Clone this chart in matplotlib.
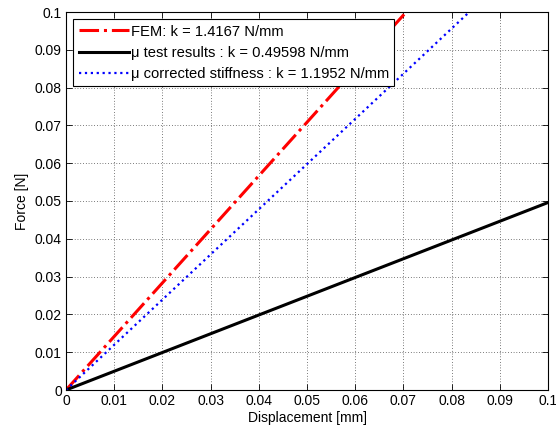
import matplotlib
matplotlib.use("Agg")
import matplotlib.pyplot as plt

plt.rcParams['font.family'] = ['Liberation Sans', 'DejaVu Sans']

displacement = [0.0, 0.1]
fem_force = [0.0, 0.14167]
test_force = [0.0, 0.049598]
corrected_force = [0.0, 0.11952]

labels = ["FEM: k = 1.4167 N/mm",
          "\u03bc test results : k = 0.49598 N/mm",
          "\u03bc corrected stiffness : k = 1.1952 N/mm"]
ticks = [0, 0.01, 0.02, 0.03, 0.04, 0.05, 0.06, 0.07, 0.08, 0.09, 0.1]
tick_labels = ["0", "0.01", "0.02", "0.03", "0.04", "0.05", "0.06", "0.07", "0.08", "0.09", "0.1"]

fig = plt.figure(figsize=(5.56, 4.33), dpi=100)
ax = fig.add_axes([66/556, 1-390/433, (548-66)/556, (390-12)/433])

ax.plot(displacement, fem_force, color='red', linestyle='-.', lw=2.2, label=labels[0])
ax.plot(displacement, test_force, color='black', linestyle='-', lw=2.2, label=labels[1])
ax.plot(displacement, corrected_force, color='blue', linestyle=':', lw=1.6, label=labels[2])

ax.set_xlim(0, 0.1)
ax.set_ylim(0, 0.1)
ax.set_xticks(ticks)
ax.set_xticklabels(tick_labels)
ax.set_yticks(ticks)
ax.set_yticklabels(tick_labels)
ax.tick_params(direction='in', length=4, labelsize=10, top=True, right=True, width=0.6, pad=3)
ax.grid(True, color='black', linestyle=(0, (1, 3)), lw=0.5)
for s in ax.spines.values():
    s.set_linewidth(0.8)
ax.set_xlabel("Displacement [mm]", fontsize=10, labelpad=2)
ax.set_ylabel("Force [N]", fontsize=10, labelpad=4)

leg = ax.legend(loc='upper left', fontsize=10.6, frameon=True, fancybox=False,
                edgecolor='black', framealpha=1, borderaxespad=0.5,
                handlelength=3.4, handletextpad=0.15, labelspacing=0.5, borderpad=0.35)
leg.get_frame().set_linewidth(0.8)

fig.savefig("out.png", dpi=100)
